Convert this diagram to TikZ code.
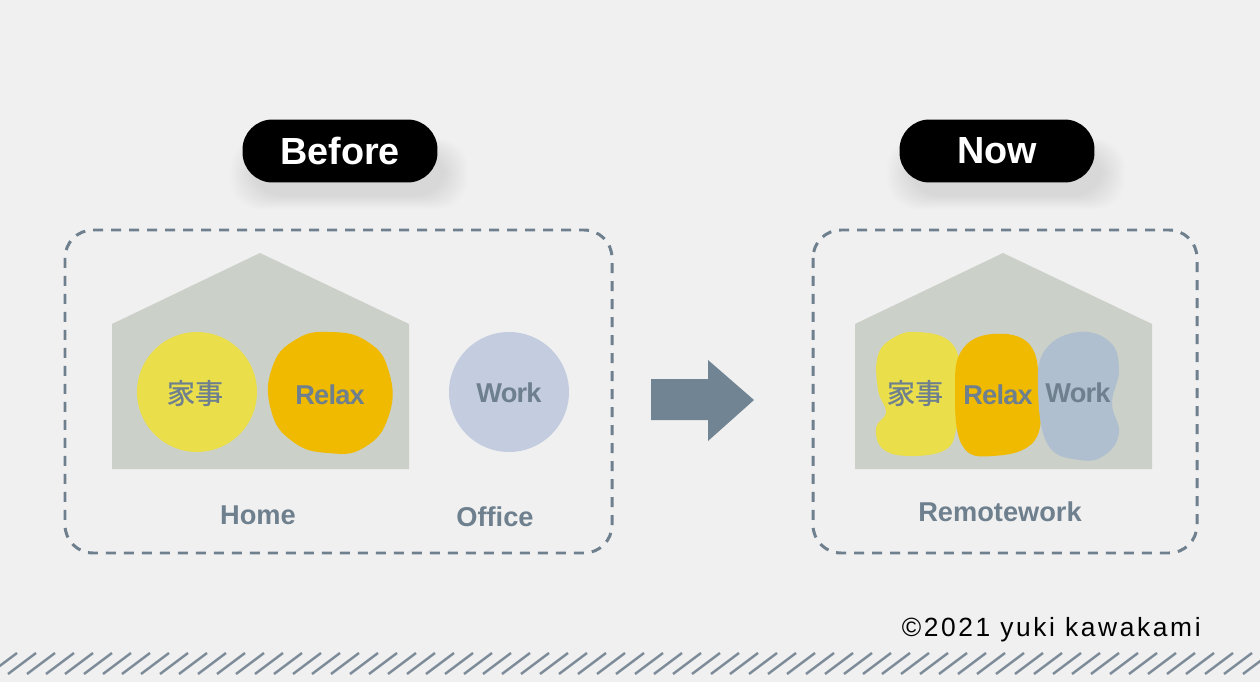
\documentclass[tikz,border=0pt]{standalone}
\usepackage{fontspec}
\setmainfont{Liberation Sans}
\newfontfamily\jpfont[BoldFont={Noto Sans CJK JP},BoldFeatures={FakeBold=0.9}]{Noto Sans CJK JP}
\newfontfamily\trackfont[LetterSpace=10]{Liberation Sans}
\newfontfamily\tightfont[LetterSpace=-3]{Liberation Sans}
\usetikzlibrary{positioning}
\definecolor{bgcol}{HTML}{F0F0F0}
\definecolor{slate}{HTML}{6E7F8E}
\definecolor{arrowcol}{HTML}{718494}
\definecolor{housecol}{HTML}{CBD0C8}
\definecolor{chorecol}{HTML}{EADF4B}
\definecolor{relaxcol}{HTML}{F0BA00}
\definecolor{workcol}{HTML}{C4CCDF}
\definecolor{workblob}{HTML}{B0BFCF}
\definecolor{hatchcol}{HTML}{7D8B99}
\tikzset{
  pill/.style={fill=black,text=white,rounded corners=0.6cm,minimum width=3.9cm,
    minimum height=1.26cm,font=\fontsize{21.5pt}{24pt}\selectfont\bfseries},
  areabox/.style={draw=slate,line width=1.7pt,dash pattern=on 0.2cm off 0.16cm,
    rounded corners=0.56cm},
  inlabel/.style={text=slate,font=\fontsize{15.5pt}{18pt}\tightfont\bfseries},
  jplabel/.style={text=slate,font=\fontsize{16pt}{18pt}\jpfont\bfseries},
  placelabel/.style={text=slate,font=\fontsize{15.5pt}{18pt}\selectfont\bfseries},
}
\begin{document}
\begin{tikzpicture}[x=0.02cm,y=-0.02cm]
\fill[bgcol] (0,0) rectangle (1260,682);
\useasboundingbox (0,0) rectangle (1260,682);
% shadows under the pills
\foreach \px in {340,997}{
  \foreach \s in {0,2,...,22}
    \fill[black,opacity=0.007,rounded corners=0.6cm]
      (\px-88-\s,150-\s*0.5) rectangle (\px+106+\s,196+\s*0.6);
}
\node[pill] (before) at (340,151) {Before};
\node[pill] (now) at (997,151) {Now};
% frames
\draw[areabox] (65,230) rectangle (612,553);
\draw[areabox] (813,230) rectangle (1197,553);
% houses
\fill[housecol] (112,469) -- (112,324) -- (260,253) -- (409,324) -- (409,469) -- cycle;
\fill[housecol] (855,469) -- (855,324) -- (1003,253) -- (1152,324) -- (1152,469) -- cycle;
% before
\fill[chorecol] (197,392) circle[radius=60];
\fill[relaxcol] plot[smooth cycle,tension=0.8] coordinates
  {(330,332) (368,342) (389,372) (389,415) (365,447) (328,453) (292,441) (271,410) (272,368) (295,340)};
\fill[workcol] (509,392) circle[radius=60];
\node[jplabel] (chore) at (195,393) {家事};
\node[inlabel] (relax) at (330,395) {Relax};
\node[inlabel] (work) at (509,393) {Work};
\node[placelabel] (home) at (258,515) {Home};
\node[placelabel] (office) at (495,517) {Office};
% arrow
\fill[arrowcol] (651,379) -- (708,379) -- (708,360) -- (754,400) -- (708,441) -- (708,420) -- (651,420) -- cycle;
% now
\fill[chorecol] plot[smooth cycle,tension=0.7] coordinates
  {(917,332) (948,340) (960,365) (958,400) (956,430) (945,450) (910,456) (883,449) (876,428) (886,412) (878,390) (878,355) (895,337)};
\fill[relaxcol] plot[smooth cycle,tension=0.7] coordinates
  {(993,334) (1030,345) (1039,390) (1035,440) (993,456) (962,445) (955,390) (962,350)};
\fill[workblob] plot[smooth cycle,tension=0.7] coordinates
  {(1078,332) (1110,342) (1119,370) (1112,403) (1119,433) (1105,455) (1080,460) (1048,445) (1038,390) (1045,350)};
\node[jplabel] (chore2) at (915,393) {家事};
\node[inlabel] (relax2) at (998,395) {Relax};
\node[inlabel] (work2) at (1078,393) {Work};
\node[placelabel] (remote) at (1000,512) {Remotework};
% credit
\node[anchor=base east,inner sep=0pt,font=\fontsize{15pt}{18pt}\trackfont] (credit) at (1201,636) {©2021 yuki kawakami};
% hatch strip
\begin{scope}
\clip (0,645) rectangle (1260,682);
\foreach \x in {-30,-11,...,1270}
  \draw[hatchcol,line width=1.4pt] (\x,674) -- (\x+28,653);
\end{scope}
\end{tikzpicture}
\end{document}
